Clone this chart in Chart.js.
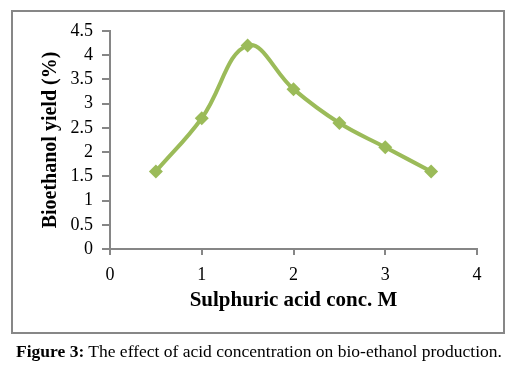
<!DOCTYPE html>
<html>
<head>
<meta charset="utf-8">
<script src="https://cdn.jsdelivr.net/npm/chart.js@4"></script>
<style>
  body { margin: 0; background: #fff; }
  #wrap { position: relative; width: 516px; height: 370px; }
  #box { position: absolute; left: 11px; top: 10px; width: 490px; height: 320px; border: 2px solid #878787; }
  #c { position: absolute; left: 0; top: 0; }
  #caption { position: absolute; left: 16px; top: 341px; font-family: "Liberation Serif", serif; font-size: 17.5px; color: #000; white-space: nowrap; }
</style>
</head>
<body>
<div id="wrap">
  <div id="box"></div>
  <canvas id="c" width="516" height="370"></canvas>
  <div id="caption"><b>Figure 3:</b> The effect of acid concentration on bio-ethanol production.</div>
</div>
<script>
// acid concentration (M) vs bioethanol yield (%)
var acidConc = [0.5, 1, 1.5, 2, 2.5, 3, 3.5];
var yieldPct = [1.6, 2.7, 4.2, 3.3, 2.6, 2.1, 1.6];

var xTitle = 'Sulphuric acid conc. M';
var yTitle = 'Bioethanol yield (%)';

var points = acidConc.map(function (x, i) { return { x: x, y: yieldPct[i] }; });

var green = '#9BBB59';
var axisGray = '#868686';
var serif = '"Liberation Serif", "Times New Roman", serif';

new Chart(document.getElementById('c'), {
    type: 'line',
    data: {
        datasets: [{
            data: points,
            borderColor: green,
            backgroundColor: green,
            borderWidth: 4,
            tension: 0.4,
            pointStyle: 'rectRot',
            pointRadius: 7,
            pointHoverRadius: 7,
            pointBorderWidth: 0,
            clip: false
        }]
    },
    options: {
        responsive: false,
        animation: false,
        devicePixelRatio: 1,
        layout: { padding: { left: 0, top: 31, right: 39, bottom: 0 } },
        plugins: { legend: { display: false }, tooltip: { enabled: false } },
        scales: {
            x: {
                type: 'linear',
                min: 0, max: 4,
                ticks: { stepSize: 1, color: '#000', font: { family: serif, size: 18 }, padding: 9, maxRotation: 0 },
                grid: { drawOnChartArea: false, color: axisGray, tickLength: 6, lineWidth: 2 },
                border: { color: axisGray, width: 2 },
                title: { display: true, text: xTitle, color: '#000', font: { family: serif, size: 21, weight: 'bold' }, padding: { top: 0, bottom: 57 } },
                afterFit: function (s) { s.height = 121; }
            },
            y: {
                min: 0, max: 4.5,
                ticks: {
                    stepSize: 0.5, autoSkip: false, color: '#000', font: { family: serif, size: 18 }, padding: 9,
                    callback: function (v) { return String(Math.round(v * 10) / 10); }
                },
                grid: { drawOnChartArea: false, color: axisGray, tickLength: 8, lineWidth: 2 },
                border: { color: axisGray, width: 2 },
                title: { display: true, text: yTitle, color: '#000', font: { family: serif, size: 20, weight: 'bold' }, padding: { top: 39, bottom: 0 } },
                afterFit: function (s) { s.width = 110; }
            }
        }
    }
});
</script>
</body>
</html>
